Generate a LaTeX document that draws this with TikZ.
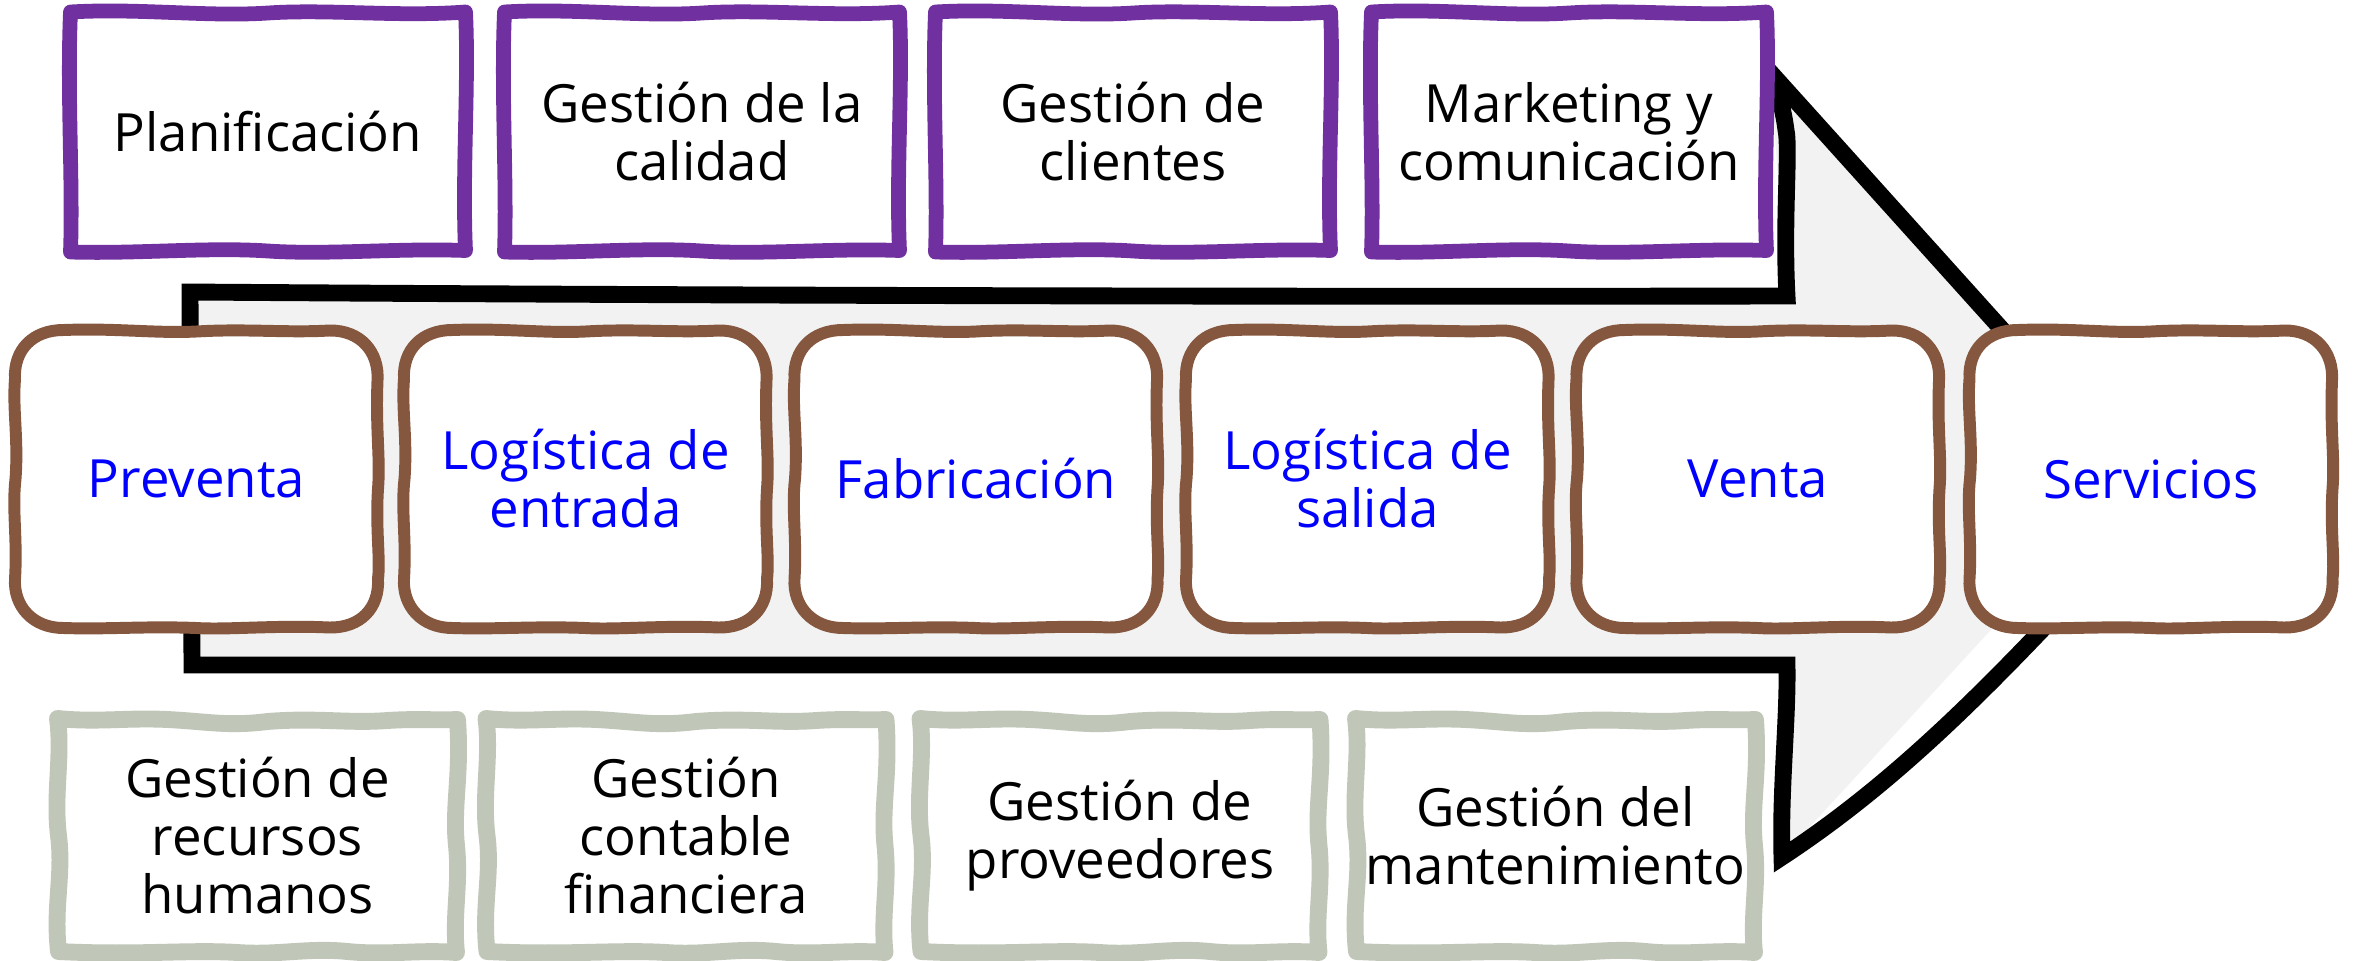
\documentclass[tikz,border=0pt]{standalone}
\usepackage{fontspec}
\setmainfont{Open Sans}
\definecolor{vpurple}{HTML}{7030A0}
\definecolor{vbrown}{HTML}{86573F}
\definecolor{vsage}{HTML}{C0C6B8}
\definecolor{vfill}{HTML}{F2F2F2}
\definecolor{vblue}{HTML}{0000FF}
\tikzset{
  lbl/.style={align=center, inner sep=0pt, font=\fontsize{15}{16.5}\selectfont},
  toplbl/.style={lbl, text=black},
  midlbl/.style={lbl, text=vblue},
  botlbl/.style={lbl, text=black},
  topbox/.pic={
    \draw[vpurple, line width=4.2pt, line join=round, fill=white]
      (-1.975,1.2) .. controls (-1.3,1.24) and (-0.6,1.15) .. (0,1.19)
      .. controls (0.6,1.23) and (1.3,1.15) .. (1.975,1.2)
      .. controls (2.01,0.5) and (1.94,-0.4) .. (1.975,-1.185)
      .. controls (1.3,-1.16) and (0.6,-1.23) .. (0,-1.19)
      .. controls (-0.6,-1.15) and (-1.3,-1.22) .. (-1.975,-1.2)
      .. controls (-1.95,-0.5) and (-2.01,0.4) .. (-1.975,1.2) -- cycle;
  },
  midbox/.pic={
    \draw[vbrown, line width=3.4pt, line join=round, fill=white]
      (-1.33,1.49) .. controls (-0.8,1.51) and (-0.4,1.455) .. (0,1.475)
      .. controls (0.5,1.505) and (0.9,1.46) .. (1.33,1.485)
      .. controls (1.64,1.49) and (1.83,1.27) .. (1.81,0.98)
      .. controls (1.79,0.5) and (1.84,0.2) .. (1.815,-0.1)
      .. controls (1.79,-0.5) and (1.84,-0.8) .. (1.815,-1.0)
      .. controls (1.83,-1.29) and (1.64,-1.49) .. (1.33,-1.485)
      .. controls (0.8,-1.46) and (0.3,-1.51) .. (0,-1.49)
      .. controls (-0.5,-1.47) and (-0.9,-1.505) .. (-1.33,-1.49)
      .. controls (-1.64,-1.49) and (-1.83,-1.27) .. (-1.815,-1.0)
      .. controls (-1.79,-0.6) and (-1.845,-0.3) .. (-1.81,0)
      .. controls (-1.78,0.4) and (-1.84,0.7) .. (-1.815,1.0)
      .. controls (-1.83,1.29) and (-1.64,1.49) .. (-1.33,1.49) -- cycle;
  },
  botbox/.pic={
    \draw[vsage, line width=4.8pt, line join=round, fill=white]
      (-2.0,1.17) .. controls (-1.6,1.13) and (-1.3,1.18) .. (-0.9,1.16)
      .. controls (-0.5,1.14) and (-0.3,1.09) .. (0.1,1.14)
      .. controls (0.6,1.18) and (0.9,1.12) .. (1.3,1.15)
      .. controls (1.6,1.17) and (1.8,1.15) .. (2.0,1.16)
      .. controls (2.04,0.6) and (1.95,0.3) .. (1.99,-0.1)
      .. controls (2.03,-0.5) and (1.95,-0.8) .. (1.99,-1.17)
      .. controls (1.6,-1.14) and (1.3,-1.2) .. (0.9,-1.16)
      .. controls (0.5,-1.12) and (0.2,-1.2) .. (-0.2,-1.17)
      .. controls (-0.7,-1.14) and (-1.2,-1.2) .. (-1.99,-1.16)
      .. controls (-2.04,-0.7) and (-1.94,-0.4) .. (-1.99,0)
      .. controls (-2.04,0.4) and (-1.95,0.8) .. (-2.0,1.17) -- cycle;
  },
  arrowline/.style={draw=black, line width=4.8pt, line join=miter},
}
\begin{document}
\begin{tikzpicture}
\useasboundingbox (0,0) rectangle (23.54,-9.61);
% big arrow
\coordinate (aTL) at (1.90,-2.92);
\coordinate (aN1) at (17.87,-2.96);
\coordinate (aHT) at (17.70,-0.72);
\coordinate (aTip) at (21.6,-5.05);
\coordinate (aHB) at (17.82,-8.57);
\coordinate (aN2) at (17.87,-6.65);
\coordinate (aBL) at (1.92,-6.65);
\fill[vfill] (aTL) -- (aN1) -- (aHT) -- (aTip) -- (20.0,-6.2) -- (aHB) -- (aN2) -- (aBL) -- cycle;
\draw[arrowline] (aTL) .. controls (6,-2.95) and (12,-2.97) .. (aN1)
  .. controls (17.83,-2.2) and (17.90,-1.5) .. (17.86,-1.30)
  .. controls (17.82,-1.0) and (17.75,-0.85) .. (aHT)
  -- (aTip)
  .. controls (20.4,-6.3) and (19.3,-7.6) .. (aHB)
  .. controls (17.80,-7.9) and (17.88,-7.2) .. (aN2)
  -- (aBL) -- cycle;
% top row
\pic at (2.68,-1.32) {topbox};
\pic at (7.02,-1.32) {topbox};
\pic at (11.33,-1.32) {topbox};
\pic at (15.69,-1.32) {topbox};
\node[toplbl] (t1) at (2.68,-1.32) {Planificación};
\node[toplbl] (t2) at (7.02,-1.32) {Gestión de la\\calidad};
\node[toplbl] (t3) at (11.33,-1.32) {Gestión de\\clientes};
\node[toplbl] (t4) at (15.69,-1.32) {Marketing y\\comunicación};
% middle row
\pic at (1.965,-4.79) {midbox};
\pic at (5.855,-4.79) {midbox};
\pic at (9.76,-4.79) {midbox};
\pic at (13.675,-4.79) {midbox};
\pic at (17.58,-4.79) {midbox};
\pic at (21.51,-4.79) {midbox};
\node[midlbl] (m1) at (1.965,-4.79) {Preventa};
\node[midlbl] (m2) at (5.855,-4.79) {Logística de\\entrada};
\node[midlbl] (m3) at (9.76,-4.79) {Fabricación};
\node[midlbl] (m4) at (13.675,-4.79) {Logística de\\salida};
\node[midlbl] (m5) at (17.58,-4.79) {Venta};
\node[midlbl] (m6) at (21.51,-4.79) {Servicios};
% bottom row
\pic at (2.575,-8.355) {botbox};
\pic at (6.86,-8.355) {botbox};
\pic at (11.20,-8.355) {botbox};
\pic at (15.555,-8.355) {botbox};
\node[botlbl] (b1) at (2.575,-8.355) {Gestión de\\recursos\\humanos};
\node[botlbl] (b2) at (6.86,-8.355) {Gestión\\contable\\financiera};
\node[botlbl] (b3) at (11.20,-8.355) {Gestión de\\proveedores};
\node[botlbl] (b4) at (15.555,-8.355) {Gestión del\\mantenimiento};
\end{tikzpicture}
\end{document}
